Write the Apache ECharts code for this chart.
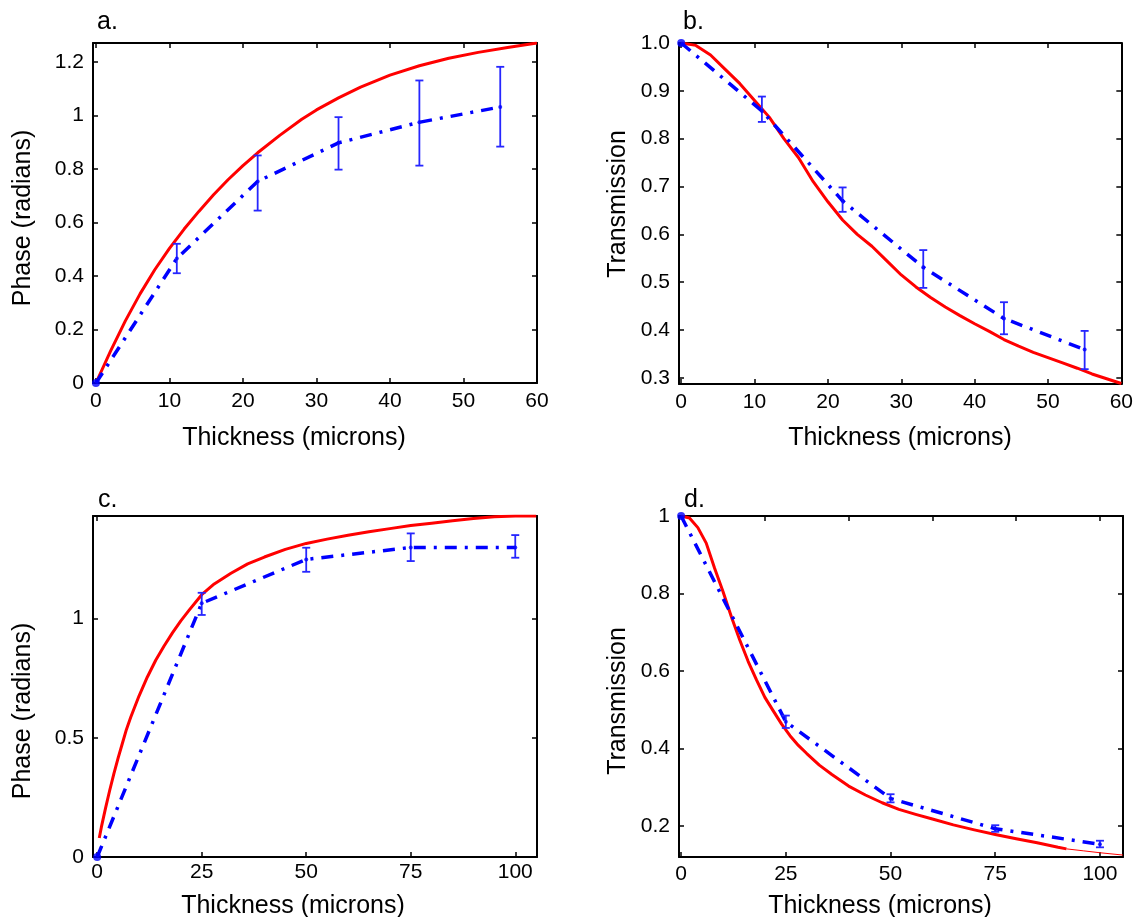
<!DOCTYPE html>
<html><head><meta charset="utf-8">
<script src="https://cdn.jsdelivr.net/npm/echarts@6/dist/echarts.min.js"></script>
<style>html,body{margin:0;padding:0;background:#fff}#c{width:1136px;height:917px}</style>
</head><body><div id="c"></div>
<script>
// ---------- Panel a: Phase vs thickness ----------
const aTheoryX = [0,2,4,6,8,10,12,14,16,18,20,22,25,28,30,33,36,40,44,48,52,56,60];
const aTheoryY = [0,0.12,0.232,0.333,0.423,0.503,0.575,0.641,0.703,0.76,0.812,0.86,0.925,0.985,1.02,1.065,1.105,1.15,1.185,1.213,1.235,1.253,1.27];
const aMeasX = [0,11,22,33,44,55];
const aMeasY = [0,0.465,0.753,0.897,0.974,1.031];
const aErrLow = [null,0.41,0.644,0.797,0.812,0.883];
const aErrHigh = [null,0.52,0.85,0.993,1.13,1.181];
const aXTicks = [0,10,20,30,40,50,60];
const aYTicks = [0,0.2,0.4,0.6,0.8,1,1.2];

// ---------- Panel b: Transmission vs thickness ----------
const bTheoryX = [0,2,4,6,8,10,12,14,16,18,20,22,24,26,28,30,32,34,36,38,40,42,44,46,48,50,52,54,56,58,60];
const bTheoryY = [1.0,0.995,0.975,0.945,0.915,0.88,0.845,0.80,0.76,0.71,0.668,0.63,0.60,0.575,0.545,0.515,0.49,0.468,0.448,0.43,0.413,0.397,0.38,0.366,0.353,0.342,0.331,0.32,0.308,0.298,0.288];
const bMeasX = [0,11,22,33,44,55];
const bMeasY = [1.0,0.858,0.670,0.531,0.424,0.359];
const bErrLow = [null,0.835,0.647,0.488,0.391,0.318];
const bErrHigh = [null,0.888,0.698,0.567,0.458,0.398];
const bXTicks = [0,10,20,30,40,50,60];
const bYTicks = [0.3,0.4,0.5,0.6,0.7,0.8,0.9,1.0];

// ---------- Panel c: Phase vs thickness ----------
const cTheoryX = [0.5,1,2,3,4,5,6,7,8,10,12,14,16,18,20,22,25,28,32,36,40,45,50,55,60,65,70,75,80,85,90,95,100,105];
const cTheoryY = [0.08,0.125,0.205,0.28,0.35,0.415,0.475,0.535,0.585,0.675,0.755,0.825,0.885,0.94,0.99,1.035,1.10,1.145,1.19,1.229,1.258,1.29,1.315,1.333,1.349,1.364,1.377,1.39,1.40,1.41,1.42,1.427,1.43,1.43];
const cMeasX = [0,25,50,75,100];
const cMeasY = [0,1.064,1.248,1.298,1.298];
const cErrLow = [null,1.015,1.196,1.241,1.255];
const cErrHigh = [null,1.108,1.297,1.357,1.35];
const cXLabels = [0,25,50,75,100];
const cXTopTicks = [0];
const cYTicks = [0,0.5,1];

// ---------- Panel d: Transmission vs thickness ----------
const dTheoryX = [0,2,4,6,8,10,12,14,16,18,20,22,24,26,28,30,33,36,40,44,48,52,56,60,65,70,75,80,85,90,92];
const dTheoryY = [1.0,0.995,0.97,0.93,0.865,0.805,0.74,0.68,0.625,0.577,0.532,0.497,0.463,0.433,0.408,0.387,0.357,0.333,0.303,0.28,0.26,0.243,0.23,0.218,0.203,0.19,0.178,0.167,0.157,0.145,0.141];
const dTailX = [92,96,100,105.5];
const dTailY = [0.141,0.136,0.131,0.125];
const dMeasX = [0,25,50,75,100];
const dMeasY = [1.0,0.469,0.271,0.193,0.153];
const dErrLow = [null,0.453,0.261,0.185,0.145];
const dErrHigh = [null,0.485,0.282,0.202,0.162];
const dXLabels = [0,25,50,75,100];
const dXTopTicks = [20,40,60,80,100];
const dYTicks = [0.2,0.4,0.6,0.8,1];

const panelLabels = ['a.','b.','c.','d.'];
const xTitle = 'Thickness (microns)';
const yTitles = ['Phase (radians)','Transmission','Phase (radians)','Transmission'];

// ---------- helpers ----------
const FONT = '"Liberation Sans", Arial, Helvetica, sans-serif';
const zip = (xs, ys) => xs.map((x, i) => [x, ys[i]]);
const errData = (xs, lo, hi) => xs.map((x, i) => [x, lo[i], hi[i]]).filter(d => d[1] != null);

const grids = [
  {left: 93, top: 43, width: 444, height: 340},
  {left: 679, top: 43, width: 445, height: 341},
  {left: 93, top: 516, width: 444, height: 341},
  {left: 679, top: 516, width: 444, height: 341}
];

const lineAxis = {onZero: false, lineStyle: {color: '#000', width: 2}};
function tick(vals) { return {inside: true, length: 5, customValues: vals, lineStyle: {color: '#000', width: 1.5}}; }

const xAxes = [], yAxes = [];
function addAxes(gi, xr, yr, xBottomTicks, xLabels, xTopTicks, yTicks, yFmt, xMargin) {
  xAxes.push({gridIndex: gi, type: 'value', min: xr[0], max: xr[1], position: 'bottom',
    axisLine: lineAxis, axisTick: tick(xBottomTicks), splitLine: {show: false},
    axisLabel: {customValues: xLabels, margin: xMargin, color: '#000', fontSize: 21, fontFamily: FONT}});
  xAxes.push({gridIndex: gi, type: 'value', min: xr[0], max: xr[1], position: 'top',
    axisLine: lineAxis, axisTick: tick(xTopTicks), splitLine: {show: false}, axisLabel: {show: false}});
  yAxes.push({gridIndex: gi, type: 'value', min: yr[0], max: yr[1], position: 'left',
    axisLine: lineAxis, axisTick: tick(yTicks), splitLine: {show: false},
    axisLabel: {customValues: yTicks, margin: 9, color: '#000', fontSize: 21, fontFamily: FONT, formatter: yFmt}});
  yAxes.push({gridIndex: gi, type: 'value', min: yr[0], max: yr[1], position: 'right',
    axisLine: lineAxis, axisTick: tick(yTicks), splitLine: {show: false}, axisLabel: {show: false}});
}
addAxes(0, [-0.4, 60], [0, 1.27], aXTicks, aXTicks, aXTicks, aYTicks, null, 8);
addAxes(1, [-0.3, 60], [0.287, 1.0], bXTicks, bXTicks, bXTicks, bYTicks, v => v.toFixed(1), 8);
addAxes(2, [-1, 105.2], [0, 1.43], cXLabels, cXLabels, cXTopTicks, cYTicks, null, 5);
addAxes(3, [-0.5, 105.5], [0.12, 1.0], dXLabels, dXLabels, dXTopTicks, dYTicks, null, 7);

function errRender(params, api) {
  const x = api.value(0), lo = api.value(1), hi = api.value(2);
  const pLo = api.coord([x, lo]), pHi = api.coord([x, hi]);
  const w = 4;
  const style = {stroke: '#2626ff', lineWidth: 1.8, fill: null};
  return {type: 'group', children: [
    {type: 'line', shape: {x1: pLo[0], y1: pLo[1], x2: pHi[0], y2: pHi[1]}, style: style},
    {type: 'line', shape: {x1: pLo[0] - w, y1: pLo[1], x2: pLo[0] + w, y2: pLo[1]}, style: style},
    {type: 'line', shape: {x1: pHi[0] - w, y1: pHi[1], x2: pHi[0] + w, y2: pHi[1]}, style: style}
  ]};
}

const series = [];
function addPanel(gi, thX, thY, mX, mY, lo, hi) {
  const xi = gi * 2, yi = gi * 2;
  series.push({type: 'line', xAxisIndex: xi, yAxisIndex: yi, data: zip(thX, thY), showSymbol: false,
    symbol: 'none', lineStyle: {color: '#ff0000', width: 3, join: 'round'}, z: 3, silent: true});
  series.push({type: 'line', xAxisIndex: xi, yAxisIndex: yi, data: zip(mX, mY), showSymbol: false,
    symbol: 'none', lineStyle: {color: '#0000ff', width: 3.5, type: [12, 8, 3, 8]}, z: 4, silent: true});
  series.push({type: 'custom', xAxisIndex: xi, yAxisIndex: yi, data: errData(mX, lo, hi),
    renderItem: errRender, encode: {x: 0, y: [1, 2]}, z: 5, silent: true});
  series.push({type: 'scatter', xAxisIndex: xi, yAxisIndex: yi, data: zip(mX, mY).slice(1),
    symbolSize: 4, itemStyle: {color: '#0000ff'}, z: 6, silent: true});
  series.push({type: 'scatter', xAxisIndex: xi, yAxisIndex: yi, data: zip(mX, mY).slice(0, 1),
    symbolSize: 8, itemStyle: {color: '#0000ff'}, z: 6, silent: true, clip: false});
}
addPanel(0, aTheoryX, aTheoryY, aMeasX, aMeasY, aErrLow, aErrHigh);
addPanel(1, bTheoryX, bTheoryY, bMeasX, bMeasY, bErrLow, bErrHigh);
addPanel(2, cTheoryX, cTheoryY, cMeasX, cMeasY, cErrLow, cErrHigh);
addPanel(3, dTheoryX, dTheoryY, dMeasX, dMeasY, dErrLow, dErrHigh);
series.push({type: 'line', xAxisIndex: 6, yAxisIndex: 6, data: zip(dTailX, dTailY), showSymbol: false,
  symbol: 'none', lineStyle: {color: '#ff0000', width: 1}, z: 3, silent: true});

// ---------- titles ----------
function txt(text, x, y, size, align, rot) {
  return {type: 'text', x: x, y: y, rotation: rot || 0, silent: true,
    style: {text: text, font: size + 'px ' + FONT, fill: '#000',
      align: align, verticalAlign: 'middle', textAlign: align, textVerticalAlign: 'middle'}};
}
const graphic = [
  txt(panelLabels[0], 97, 22, 25, 'left'),
  txt(panelLabels[1], 683, 22, 25, 'left'),
  txt(panelLabels[2], 98, 500, 25, 'left'),
  txt(panelLabels[3], 684, 500, 25, 'left'),
  txt(xTitle, 294, 438, 25, 'center'),
  txt(xTitle, 900, 438, 25, 'center'),
  txt(xTitle, 293, 906, 25, 'center'),
  txt(xTitle, 880, 906, 25, 'center'),
  txt(yTitles[0], 23, 218, 25, 'center', Math.PI / 2),
  txt(yTitles[1], 618, 204, 25, 'center', Math.PI / 2),
  txt(yTitles[2], 23, 711, 25, 'center', Math.PI / 2),
  txt(yTitles[3], 618, 701, 25, 'center', Math.PI / 2)
];

const chart = echarts.init(document.getElementById('c'), null, {renderer: 'canvas'});
chart.setOption({
  animation: false,
  backgroundColor: '#fff',
  grid: grids,
  xAxis: xAxes,
  yAxis: yAxes,
  series: series,
  graphic: graphic
});
</script></body></html>
